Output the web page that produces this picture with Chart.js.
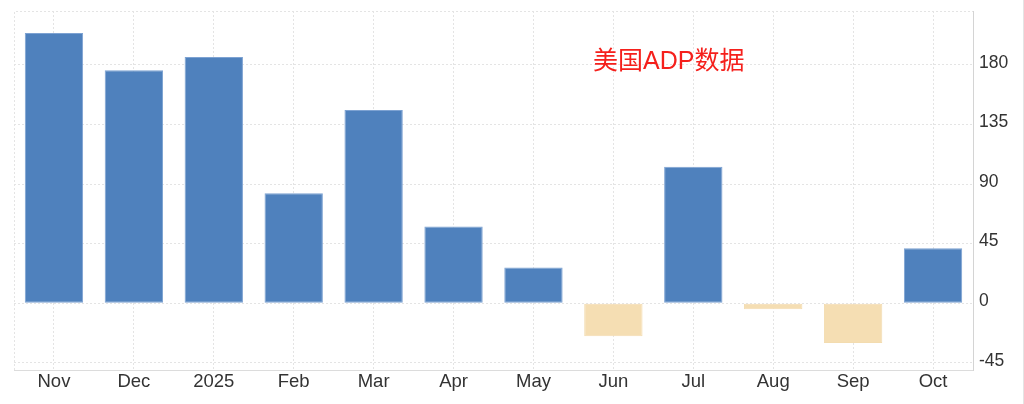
<!DOCTYPE html>
<html>
<head>
<meta charset="utf-8">
<script src="https://cdn.jsdelivr.net/npm/chart.js@4"></script>
<style>
  html, body { margin: 0; padding: 0; background: #fff; }
  #wrap { position: relative; width: 1024px; height: 404px; box-sizing: border-box; border-right: 1px solid #e4e4e4; }
  #title { position: absolute; left: 593px; top: 46px; line-height: 28px; color: #f5201c; font-size: 25px; font-family: "Liberation Sans", "Noto Sans CJK SC", sans-serif; white-space: nowrap; }
</style>
</head>
<body>
<div id="wrap">
  <canvas id="chart" width="1024" height="404"></canvas>
  <div id="title">美国ADP数据</div>
</div>
<script>
//Categories and values (thousands)
var months = ['Nov', 'Dec', '2025', 'Feb', 'Mar', 'Apr', 'May', 'Jun', 'Jul', 'Aug', 'Sep', 'Oct'];
var adpValues = [204, 176, 186, 83, 146, 58, 27, -25, 103, -4.5, -30, 41.5];
var yTicks = [-45, 0, 45, 90, 135, 180];

//Blue for gains, wheat for losses
var barColors = adpValues.map(function(v){ return v >= 0 ? '#4f81bd' : '#f5deb3'; });
var barBorders = adpValues.map(function(v){ return v >= 0 ? '#7da2d2' : '#f3dcb0'; });

//Dotted frame round the plot area
var framePlugin = {
    id: 'frame',
    beforeDatasetsDraw: function(chart){
        var a = chart.chartArea, ctx = chart.ctx;
        ctx.save();
        ctx.strokeStyle = '#e4e4e4';
        ctx.lineWidth = 1;
        ctx.setLineDash([2, 2]);
        ctx.beginPath();
        ctx.moveTo(a.left + 0.5, a.bottom);
        ctx.lineTo(a.left + 0.5, a.top + 0.5);
        ctx.lineTo(a.right, a.top + 0.5);
        ctx.stroke();
        ctx.restore();
    }
};

var ctx = document.getElementById('chart').getContext('2d');
var chart = new Chart(ctx, {
    type: 'bar',
    data: {
        labels: months,
        datasets: [{
            label: 'ADP',
            data: adpValues,
            backgroundColor: barColors,
            borderColor: barBorders,
            borderWidth: 1,
            borderSkipped: false,
            categoryPercentage: 1,
            barPercentage: 0.73
        }]
    },
    options: {
        responsive: false,
        animation: false,
        layout: { padding: { left: 14, top: 11, right: 0, bottom: 0 } },
        plugins: { legend: { display: false }, tooltip: { enabled: false } },
        scales: {
            x: {
                offset: true,
                grid: { offset: false, color: '#e4e4e4', drawTicks: false },
                border: { color: '#dcdcdc', dash: [2, 2] },
                ticks: { color: '#333', font: { family: 'Liberation Sans', size: 18.5 }, padding: 1 },
                afterFit: function(s){ s.height = 34; s.paddingLeft = 0; s.paddingRight = 0; }
            },
            y: {
                position: 'right',
                min: -50.4,
                max: 220.7,
                afterBuildTicks: function(s){ s.ticks = yTicks.map(function(v){ return { value: v }; }); },
                grid: { color: '#e4e4e4', drawTicks: false },
                border: { color: '#d4d4d4', dash: [2, 2] },
                ticks: { color: '#333', font: { family: 'Liberation Sans', size: 17.5 }, padding: 6, labelOffset: -2 },
                afterFit: function(s){ s.width = 51; s.paddingTop = 0; s.paddingBottom = 0; }
            }
        }
    },
    plugins: [framePlugin]
});
</script>
</body>
</html>
